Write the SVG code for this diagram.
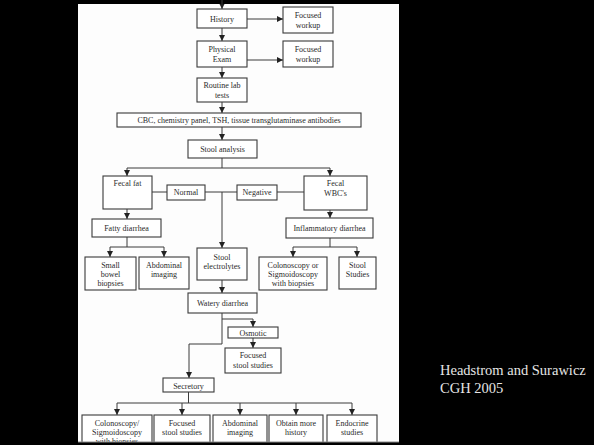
<svg xmlns="http://www.w3.org/2000/svg" width="594" height="445" viewBox="0 0 594 445">
<style>
.bx{fill:#fff;stroke:#3a3a3a;stroke-width:1.1}
.t{font-family:"Liberation Serif","Times New Roman",serif;font-size:8px;fill:#2a2a2a;text-anchor:middle}
.ln{stroke:#3a3a3a;stroke-width:1;fill:none}
.ar{stroke:#3a3a3a;stroke-width:1;fill:none;marker-end:url(#ah)}
.cap{font-family:"Liberation Serif","Times New Roman",serif;font-size:14.5px;fill:#e6e6e6}
</style>
<defs>
<marker id="ah" markerWidth="6" markerHeight="6" refX="6" refY="3" orient="auto" markerUnits="userSpaceOnUse">
<path d="M0,0 L6,3 L0,6 z" fill="#222"/>
</marker>
</defs>
<rect x="0" y="0" width="594" height="445" fill="#000"/>
<rect x="78" y="4" width="321" height="438" fill="#fdfdfd"/>

<g id="connectors">
<path class="ar" d="M222,4 V9"/>
<path class="ar" d="M222,28 V41"/>
<path class="ar" d="M247,19 H283"/>
<path class="ar" d="M247,60 H283"/>
<path class="ar" d="M222,67 V78"/>
<path class="ar" d="M222,102 V113"/>
<path class="ar" d="M222,127 V140"/>
<path class="ln" d="M222,158 V168 M127,168 H330"/>
<path class="ar" d="M127,168 V176"/>
<path class="ar" d="M330,168 V176"/>
<path class="ln" d="M152,192 H167 M205,192 H237 M277,192 H304"/>
<path class="ar" d="M222,192 V248"/>
<path class="ar" d="M127,209 V219"/>
<path class="ar" d="M330,210 V218"/>
<path class="ln" d="M127,237 V247 M110,247 H164"/>
<path class="ar" d="M110,247 V257"/>
<path class="ar" d="M164,247 V257"/>
<path class="ln" d="M330,238 V247 M293,247 H357"/>
<path class="ar" d="M293,247 V257"/>
<path class="ar" d="M357,247 V257"/>
<path class="ar" d="M222,280 V293"/>
<path class="ar" d="M222,313 V344 H189 V378"/>
<path class="ar" d="M222,319 H253 V327"/>
<path class="ar" d="M253,338 V348"/>
<path class="ln" d="M188.5,392 V403 M117,403 H352"/>
<path class="ar" d="M117,403 V415"/>
<path class="ar" d="M182,403 V415"/>
<path class="ar" d="M240,403 V415"/>
<path class="ar" d="M296,403 V415"/>
<path class="ar" d="M352,403 V415"/>
</g>

<g id="history"><rect class="bx" x="197" y="9" width="50" height="19"/><text class="t" x="222" y="21.5">History</text></g>
<g id="workup1"><rect class="bx" x="283" y="7" width="50" height="26"/><text class="t" x="308" y="17.5">Focused</text><text class="t" x="308" y="27.5">workup</text></g>
<g id="physical"><rect class="bx" x="197" y="41" width="50" height="26"/><text class="t" x="222" y="51.5">Physical</text><text class="t" x="222" y="61.5">Exam</text></g>
<g id="workup2"><rect class="bx" x="283" y="41" width="50" height="26"/><text class="t" x="308" y="51.5">Focused</text><text class="t" x="308" y="61.5">workup</text></g>
<g id="routine"><rect class="bx" x="197" y="78" width="50" height="24"/><text class="t" x="222" y="88">Routine lab</text><text class="t" x="222" y="98">tests</text></g>
<g id="cbc"><rect class="bx" x="117" y="113" width="244" height="14"/><text class="t" x="239" y="123">CBC, chemistry panel, TSH, tissue transglutaminase antibodies</text></g>
<g id="stool-analysis"><rect class="bx" x="188" y="140" width="69" height="18"/><text class="t" x="222.5" y="151.5">Stool analysis</text></g>
<g id="fecal-fat"><rect class="bx" x="103" y="176" width="49" height="33"/><text class="t" x="127.5" y="186">Fecal fat</text></g>
<g id="normal"><rect class="bx" x="167" y="185" width="38" height="15"/><text class="t" x="186" y="195">Normal</text></g>
<g id="negative"><rect class="bx" x="237" y="185" width="40" height="15"/><text class="t" x="257" y="195">Negative</text></g>
<g id="fecal-wbc"><rect class="bx" x="304" y="176" width="63" height="34"/><text class="t" x="335.5" y="186">Fecal</text><text class="t" x="335.5" y="196">WBC's</text></g>
<g id="fatty"><rect class="bx" x="92" y="219" width="69" height="18"/><text class="t" x="126.5" y="230.5">Fatty diarrhea</text></g>
<g id="inflammatory"><rect class="bx" x="286" y="218" width="87" height="20"/><text class="t" x="329.5" y="230.5">Inflammatory diarrhea</text></g>
<g id="small-bowel"><rect class="bx" x="85" y="257" width="51" height="33"/><text class="t" x="110.5" y="268">Small</text><text class="t" x="110.5" y="277">bowel</text><text class="t" x="110.5" y="286">biopsies</text></g>
<g id="abdominal1"><rect class="bx" x="139" y="257" width="50" height="32"/><text class="t" x="164" y="268">Abdominal</text><text class="t" x="164" y="277">imaging</text></g>
<g id="electrolytes"><rect class="bx" x="197" y="248" width="50" height="32"/><text class="t" x="222" y="260">Stool</text><text class="t" x="222" y="269">electrolytes</text></g>
<g id="colonoscopy1"><rect class="bx" x="259" y="257" width="68" height="33"/><text class="t" x="293" y="268">Colonoscopy or</text><text class="t" x="293" y="277">Sigmoidoscopy</text><text class="t" x="293" y="286">with biopsies</text></g>
<g id="stool-studies"><rect class="bx" x="339" y="257" width="37" height="32"/><text class="t" x="357.5" y="268">Stool</text><text class="t" x="357.5" y="277">Studies</text></g>
<g id="watery"><rect class="bx" x="188" y="293" width="69" height="20"/><text class="t" x="222.5" y="305.5">Watery diarrhea</text></g>
<g id="osmotic"><rect class="bx" x="228" y="327" width="50" height="11"/><text class="t" x="253" y="335.5">Osmotic</text></g>
<g id="focused-stool1"><rect class="bx" x="225" y="348" width="56" height="25"/><text class="t" x="253" y="358">Focused</text><text class="t" x="253" y="368">stool studies</text></g>
<g id="secretory"><rect class="bx" x="163" y="378" width="51" height="14"/><text class="t" x="188.5" y="388.5">Secretory</text></g>
<g id="colonoscopy2"><rect class="bx" x="82" y="415" width="70" height="40"/><text class="t" x="117" y="426">Colonoscopy/</text><text class="t" x="117" y="435">Sigmoidoscopy</text><text class="t" x="117" y="444">with biopsies</text></g>
<g id="focused-stool2"><rect class="bx" x="154" y="415" width="56" height="40"/><text class="t" x="182" y="426">Focused</text><text class="t" x="182" y="435">stool studies</text></g>
<g id="abdominal2"><rect class="bx" x="213" y="415" width="54" height="40"/><text class="t" x="240" y="426">Abdominal</text><text class="t" x="240" y="435">imaging</text></g>
<g id="obtain"><rect class="bx" x="269" y="415" width="54" height="40"/><text class="t" x="296" y="426">Obtain more</text><text class="t" x="296" y="435">history</text></g>
<g id="endocrine"><rect class="bx" x="327" y="415" width="50" height="40"/><text class="t" x="352" y="426">Endocrine</text><text class="t" x="352" y="435">studies</text></g>

<rect x="0" y="442" width="594" height="3" fill="#000"/>
<path d="M78,442 H399" stroke="#8a8a8a" stroke-width="1"/>
<rect x="0" y="0" width="594" height="4" fill="#000"/>
<path class="ln" d="M222,0 V4"/>

<g id="caption">
<text class="cap" x="440" y="375">Headstrom and Surawicz</text>
<text class="cap" x="440" y="393">CGH 2005</text>
</g>
</svg>
